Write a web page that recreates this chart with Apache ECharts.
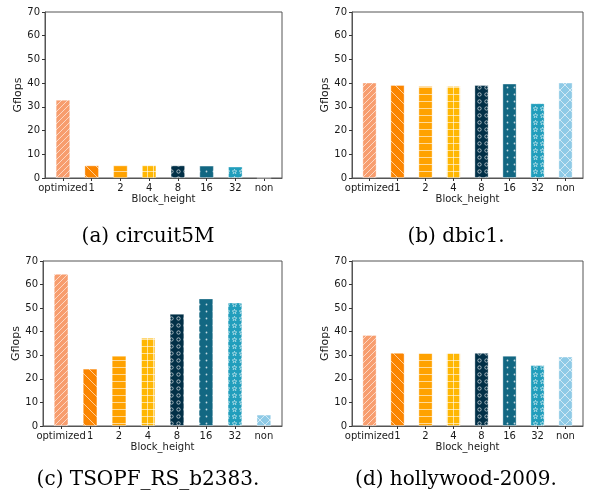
<!DOCTYPE html>
<html>
<head>
<meta charset="utf-8">
<script src="https://cdn.jsdelivr.net/npm/echarts@6/dist/echarts.min.js"></script>
<style>
  html, body { margin: 0; padding: 0; background: #fff; }
  #main { width: 592px; height: 497px; }
</style>
</head>
<body>
<div id="main"></div>
<script>
// categories and values
var categories = ['optimized', '1', '2', '4', '8', '16', '32', 'non'];
var circuit5M = [33.0, 5.3, 5.3, 5.3, 5.3, 5.2, 4.8, 0];
var dbic1 = [40.2, 39.2, 38.8, 38.8, 39.2, 39.8, 31.5, 40.2];
var tsopf = [64.5, 24.3, 29.8, 37.4, 47.6, 54.1, 52.4, 4.8];
var hollywood = [38.6, 31.0, 31.0, 31.0, 31.0, 29.8, 25.8, 29.4];
var yTicks = [0, 10, 20, 30, 40, 50, 60, 70];
var captions = ['(a) circuit5M', '(b) dbic1.', '(c) TSOPF_RS_b2383.', '(d) hollywood-2009.'];

var barColors = ['#F79D6E', '#FB8500', '#FFA200', '#FFB703', '#023047', '#126782', '#219EBC', '#8ECAE6'];
var hatches = ['//', '\\', '-', '+', 'o', '.', '*', 'x'];

// little canvas tiles, like matplotlib hatches
function makeTile(color, hatch) {
  var w = 7, h = 7;
  if (hatch == '//') { w = 6; h = 6; }
  if (hatch == '\\' || hatch == 'x') { w = 10; h = 10; }
  if (hatch == '+') { w = 6; h = 7; }
  var c = document.createElement('canvas');
  c.width = w; c.height = h;
  var ctx = c.getContext('2d');
  ctx.fillStyle = color;
  ctx.fillRect(0, 0, w, h);
  ctx.strokeStyle = 'rgba(255,255,255,0.6)';
  ctx.fillStyle = 'rgba(255,255,255,0.75)';
  ctx.lineWidth = 1;
  ctx.beginPath();
  if (hatch == '//' || hatch == 'x') {
    ctx.moveTo(-1, h + 1); ctx.lineTo(w + 1, -1);
    ctx.moveTo(-1, 1); ctx.lineTo(1, -1);
    ctx.moveTo(w - 1, h + 1); ctx.lineTo(w + 1, h - 1);
  }
  if (hatch == '\\' || hatch == 'x') {
    ctx.moveTo(-1, -1); ctx.lineTo(w + 1, h + 1);
    ctx.moveTo(w - 1, -1); ctx.lineTo(w + 1, 1);
    ctx.moveTo(-1, h - 1); ctx.lineTo(1, h + 1);
  }
  if (hatch == '-' || hatch == '+') {
    ctx.moveTo(0, 3.5); ctx.lineTo(w, 3.5);
  }
  if (hatch == '+') {
    ctx.moveTo(3.5, 0); ctx.lineTo(3.5, h);
  }
  ctx.stroke();
  if (hatch == 'o') {
    ctx.beginPath();
    ctx.arc(3.5, 3.5, 1.7, 0, Math.PI * 2);
    ctx.stroke();
  }
  if (hatch == '.') {
    ctx.beginPath();
    ctx.arc(3.5, 3.5, 0.9, 0, Math.PI * 2);
    ctx.fill();
  }
  if (hatch == '*') {
    ctx.beginPath();
    for (var k = 0; k < 10; k++) {
      var r = k % 2 == 0 ? 2.5 : 1.0;
      var a = -Math.PI / 2 + k * Math.PI / 5;
      var px = 3.5 + r * Math.cos(a), py = 3.7 + r * Math.sin(a);
      if (k == 0) ctx.moveTo(px, py); else ctx.lineTo(px, py);
    }
    ctx.closePath();
    ctx.lineWidth = 0.8;
    ctx.stroke();
  }
  return c;
}

var patterns = barColors.map(function (col, i) {
  return { image: makeTile(col, hatches[i]), repeat: 'repeat' };
});

var panels = [
  { data: circuit5M, left: 45, top: 12, width: 237, height: 166, cx: 148, cy: 237 },
  { data: dbic1, left: 352, top: 12, width: 231, height: 166, cx: 456, cy: 237 },
  { data: tsopf, left: 43, top: 261, width: 239, height: 165, cx: 148, cy: 480 },
  { data: hollywood, left: 352, top: 261, width: 231, height: 165, cx: 456, cy: 480 }
];

var xMin = -0.625, xMax = categories.length - 1 + 0.625;
var labelFont = { fontFamily: 'DejaVu Sans', fontSize: 10, color: '#1a1a1a' };
var idx = categories.map(function (c, i) { return i; });

var grids = [], xAxes = [], yAxes = [], series = [], graphics = [];
panels.forEach(function (p, g) {
  grids.push({
    left: p.left, top: p.top, width: p.width, height: p.height,
    show: true, borderColor: '#555', borderWidth: 1, backgroundColor: 'transparent'
  });
  xAxes.push({
    type: 'value', gridIndex: g, min: xMin, max: xMax,
    name: 'Block_height', nameLocation: 'middle', nameGap: 16,
    nameTextStyle: labelFont,
    axisLine: { show: true, onZero: false, lineStyle: { color: '#555', width: 1 } },
    axisTick: { show: true, length: 3, customValues: idx, lineStyle: { color: '#333' } },
    axisLabel: {
      customValues: idx, margin: 5, fontFamily: 'DejaVu Sans', fontSize: 10, color: '#1a1a1a',
      formatter: function (v) { return categories[Math.round(v)]; }
    },
    splitLine: { show: false }
  });
  yAxes.push({
    type: 'value', gridIndex: g, min: 0, max: 70, interval: 10,
    name: 'Gflops', nameLocation: 'middle', nameGap: 18, nameRotate: 90,
    nameTextStyle: { fontFamily: 'DejaVu Sans', fontSize: 11, color: '#1a1a1a' },
    axisLine: { show: true, onZero: false, lineStyle: { color: '#555', width: 1 } },
    axisTick: { show: true, length: 3, lineStyle: { color: '#333' } },
    axisLabel: { margin: 5, fontFamily: 'DejaVu Sans', fontSize: 10, color: '#1a1a1a' },
    splitLine: { show: false }
  });
  var bw = p.width / (xMax - xMin) * 0.5;
  series.push({
    type: 'bar', xAxisIndex: g, yAxisIndex: g, barWidth: bw,
    data: p.data.map(function (v, i) {
      return {
        value: [i, v],
        itemStyle: { color: patterns[i], borderColor: 'rgba(255,255,255,0.45)', borderWidth: 0.8 }
      };
    }),
    silent: true
  });
  graphics.push({
    type: 'text', x: p.cx, y: p.cy,
    style: {
      text: captions[g], font: '20px "DejaVu Serif"', fill: '#000',
      align: 'center', verticalAlign: 'middle',
      textAlign: 'center', textVerticalAlign: 'middle'
    }
  });
});

var chart = echarts.init(document.getElementById('main'), null, { renderer: 'canvas' });
chart.setOption({
  animation: false,
  backgroundColor: '#fff',
  grid: grids,
  xAxis: xAxes,
  yAxis: yAxes,
  series: series,
  graphic: graphics
});
</script>
</body>
</html>
